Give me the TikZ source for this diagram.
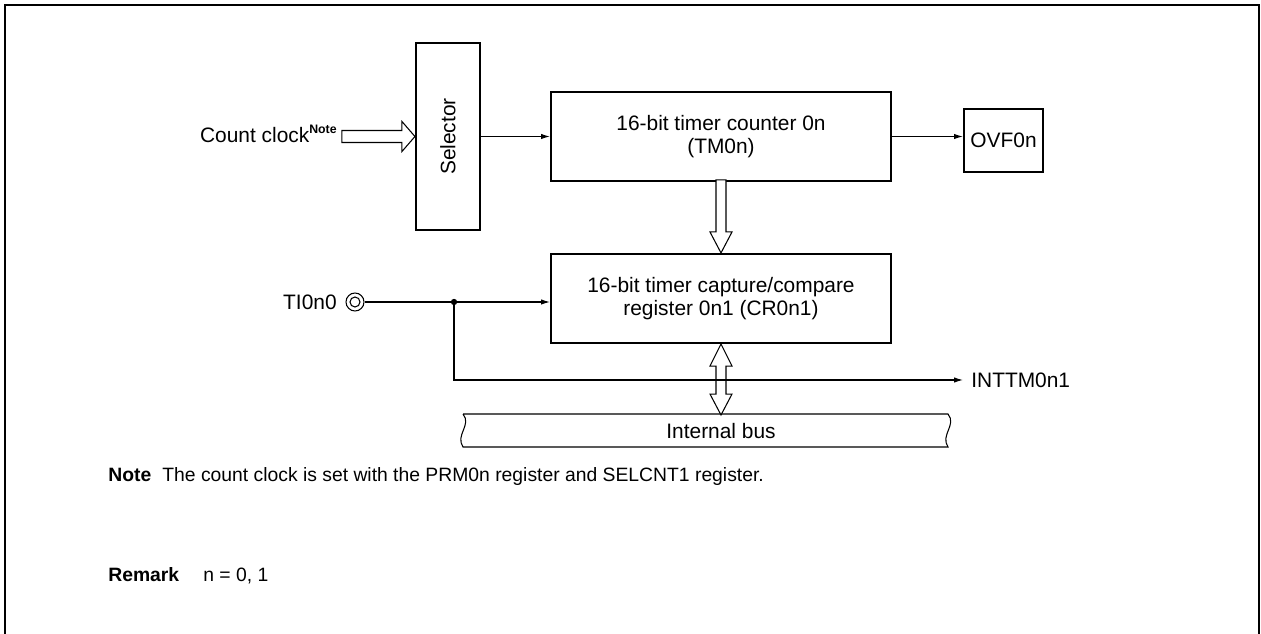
\documentclass[tikz,border=0pt]{standalone}
\usepackage{fontspec}
\setmainfont{Liberation Sans}
\usetikzlibrary{arrows.meta}
\begin{document}
\begin{tikzpicture}[x=0.02cm,y=-0.02cm,>={Latex[length=5pt,width=3pt]},
  blk/.style={draw,line width=1.2pt,inner sep=0pt,align=center},
  lbl/.style={inner sep=0pt},
  sig/.style={->,line width=0.6pt},
  hollow/.style={draw,line width=0.6pt,fill=white}]
\fontsize{11.9}{13.2}\selectfont
\useasboundingbox (0,0) rectangle (1261,634);
\draw[line width=1.6pt] (5,660) -- (5,5) -- (1259,5) -- (1259,660);
% blocks
\node[blk,rotate=90,minimum width=3.74cm,minimum height=1.28cm] (sel) at (448,136.5) {Selector};
\node[blk,minimum width=6.8cm,minimum height=1.78cm] (tm) at (721,136.5) {16-bit timer counter 0n\\(TM0n)};
\node[blk,minimum width=6.8cm,minimum height=1.78cm] (cr) at (721,298.5) {16-bit timer capture/compare\\register 0n1 (CR0n1)};
\node[blk,minimum width=1.58cm,minimum height=1.26cm] (ovf) at (1003.5,140.5) {OVF0n};
% inputs and outputs
\node[lbl,anchor=base east] (clk) at (337,143) {Count clock\raisebox{5.5pt}{\fontsize{7}{8}\selectfont\bfseries Note}};
\node[lbl,anchor=east] (ti) at (337,302) {TI0n0};
\node[circle,draw,line width=0.6pt,minimum size=0.36cm,inner sep=0pt] (pin) at (355,302) {};
\draw[line width=0.6pt] (pin) circle (0.1cm);
\node[lbl,anchor=west] (int) at (971,380) {INTTM0n1};
\coordinate (jn) at (454,302);
% internal bus
\node[lbl] (bus) at (721,431) {Internal bus};
\draw[line width=0.6pt] (463,414) -- (948,414) .. controls (957,425) and (940,435) .. (948,447)
  -- (463,447) .. controls (455,435) and (472,425) .. (463,414);
% hollow arrows
\draw[hollow] (sel.north) -- ++(-13,-15) -- ++(0,9) -- ++(-60,0) -- ++(0,12) -- ++(60,0) -- ++(0,9) -- cycle;
\draw[hollow] (cr.north) -- ++(-11,-21) -- ++(6,0) -- ++(0,-52) -- ++(10,0) -- ++(0,52) -- ++(6,0) -- cycle;
\draw[hollow] (cr.south) -- ++(11,22) -- ++(-6,0) -- ++(0,28) -- ++(6,0) -- ++(-11,21)
  -- ++(-11,-21) -- ++(6,0) -- ++(0,-28) -- ++(-6,0) -- cycle;
% signals
\draw[sig] (sel.south) -- (sel.south -| tm.west);
\draw[sig] (tm.east) -- (tm.east -| ovf.west);
\draw[sig] (pin.east) -- (pin.east -| cr.west);
\draw[sig] (jn) |- ([xshift=-0.16cm]int.west);
\fill (jn) circle (1.8pt);
% notes
\begin{scope}[font=\fontsize{11}{13}\selectfont]
\node[lbl,anchor=base west] (note) at (108,482) {\textbf{Note}};
\node[lbl,anchor=base west] (notetxt) at (162,482) {The count clock is set with the PRM0n register and SELCNT1 register.};
\node[lbl,anchor=base west] (rem) at (108,582) {\textbf{Remark}};
\node[lbl,anchor=base west] (remtxt) at (203,582) {n = 0, 1};
\end{scope}
\end{tikzpicture}
\end{document}
